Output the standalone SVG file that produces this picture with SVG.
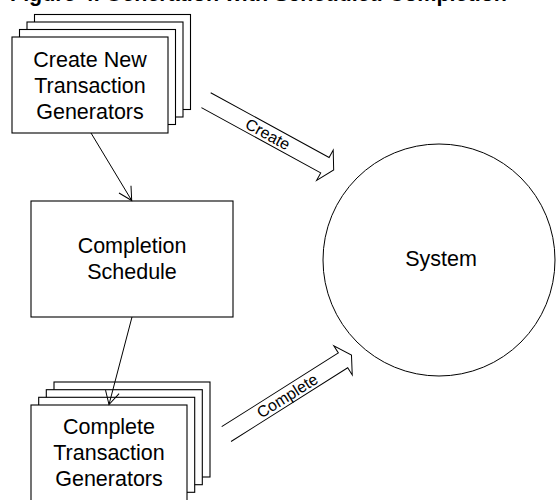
<svg xmlns="http://www.w3.org/2000/svg" width="556" height="500" viewBox="0 0 556 500">
  <style>
    .box { fill: #fff; stroke: #000; stroke-width: 1.1; }
    .lbl { font-family: "Liberation Sans", Arial, sans-serif; font-size: 21.5px; fill: #000; text-anchor: middle; }
    .alb { font-family: "Liberation Sans", Arial, sans-serif; font-size: 16px; fill: #000; text-anchor: middle; }
    .title { font-family: "Liberation Sans", Arial, sans-serif; font-size: 21.5px; font-weight: bold; fill: #000; }
    .conn { fill: none; stroke: #000; stroke-width: 1; }
  </style>
  <defs>
    <marker id="ah" markerUnits="userSpaceOnUse" markerWidth="17" markerHeight="17" viewBox="0 0 17 17" refX="15" refY="8.5" orient="auto" overflow="visible">
      <path d="M2,1.5 L15,8.5 L2,15.5" fill="none" stroke="#000" stroke-width="1"/>
    </marker>
  </defs>
  <rect width="556" height="500" fill="#fff"/>

  <text class="title" x="10" y="1">Figure 4. Generation with Scheduled Completion</text>

  <g id="create-generators">
    <rect class="box" x="34.5" y="14.5" width="156" height="95"/>
    <rect class="box" x="27" y="22" width="156" height="95"/>
    <rect class="box" x="19.5" y="29.5" width="156" height="95"/>
    <rect class="box" x="12" y="37" width="156" height="96"/>
    <text class="lbl" x="90" y="67">Create New</text>
    <text class="lbl" x="90" y="93">Transaction</text>
    <text class="lbl" x="90" y="118.5">Generators</text>
  </g>

  <g id="completion-schedule">
    <rect class="box" x="31" y="201" width="202" height="116"/>
    <text class="lbl" x="132" y="252.5">Completion</text>
    <text class="lbl" x="132" y="279">Schedule</text>
  </g>

  <g id="complete-generators">
    <rect class="box" x="54" y="382" width="156" height="95"/>
    <rect class="box" x="46.3" y="389.7" width="156" height="95"/>
    <rect class="box" x="38.7" y="397.3" width="156" height="95"/>
    <rect class="box" x="31" y="405" width="156" height="100"/>
    <text class="lbl" x="109" y="433.5">Complete</text>
    <text class="lbl" x="109" y="459.5">Transaction</text>
    <text class="lbl" x="109" y="486">Generators</text>
  </g>

  <g id="system">
    <circle cx="439" cy="260" r="116" fill="#fff" stroke="#000" stroke-width="1"/>
    <text class="lbl" x="441" y="266">System</text>
  </g>

  <g id="connectors">
    <line class="conn" x1="91" y1="133" x2="131.7" y2="200.5" marker-end="url(#ah)"/>
    <line class="conn" x1="132" y1="317" x2="109" y2="404.5" marker-end="url(#ah)"/>
    <g transform="translate(210.7,92.7) rotate(28.7)">
      <path class="conn" d="M0,0 H135 V-8.5 L145,8.75 L135,26 V17.5 H-1"/>
      <text class="alb" x="70" y="14.5">Create</text>
    </g>
    <g transform="translate(221.7,426.7) rotate(-32.3)">
      <path class="conn" d="M0,0 H138 V-8.5 L148,8.75 L138,26 V17.5 H0"/>
      <text class="alb" x="72" y="14.5">Complete</text>
    </g>
  </g>
</svg>
